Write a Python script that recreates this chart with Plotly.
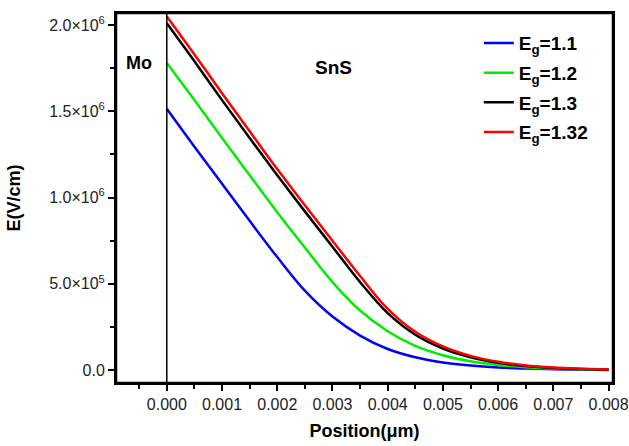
import plotly.graph_objects as go

position = [0.0, 0.0005, 0.001, 0.0015, 0.002, 0.0025, 0.003, 0.0035, 0.004,
            0.0045, 0.005, 0.0055, 0.006, 0.0065, 0.007, 0.0075, 0.008]
e_11 = [1.515, 1.295, 1.08, 0.865, 0.655, 0.46, 0.31, 0.20, 0.122, 0.074, 0.044,
        0.026, 0.015, 0.009, 0.005, 0.003, 0.001]
e_12 = [1.78, 1.565, 1.345, 1.13, 0.915, 0.71, 0.51, 0.345, 0.225, 0.14, 0.086,
        0.051, 0.03, 0.017, 0.009, 0.005, 0.002]
e_13 = [2.01, 1.79, 1.565, 1.345, 1.13, 0.92, 0.715, 0.51, 0.33, 0.205, 0.125,
        0.074, 0.042, 0.023, 0.012, 0.006, 0.002]
e_132 = [2.05, 1.83, 1.605, 1.385, 1.165, 0.955, 0.75, 0.545, 0.355, 0.222, 0.137,
         0.082, 0.048, 0.027, 0.015, 0.008, 0.003]

series = [("E<sub>g</sub>=1.1", e_11, "#0000ff"),
          ("E<sub>g</sub>=1.2", e_12, "#00ee00"),
          ("E<sub>g</sub>=1.3", e_13, "#000000"),
          ("E<sub>g</sub>=1.32", e_132, "#ff0000")]

x_ticks = [0.0, 0.001, 0.002, 0.003, 0.004, 0.005, 0.006, 0.007, 0.008]
x_ticktext = ["0.000", "0.001", "0.002", "0.003", "0.004", "0.005", "0.006", "0.007", "0.008"]
y_ticks = [0.0, 5e5, 1e6, 1.5e6, 2e6]
y_ticktext = ["0.0", "5.0×10<sup>5</sup>", "1.0×10<sup>6</sup>", "1.5×10<sup>6</sup>", "2.0×10<sup>6</sup>"]

FONT = "Liberation Sans, Arial, sans-serif"

fig = go.Figure()
for i, (name, vals, col) in enumerate(series):
    fig.add_trace(go.Scatter(
        x=position, y=[v * 1e6 for v in vals], mode="lines", name="<b>" + name + "</b>",
        legendgroup="g%d" % i,
        line=dict(color=col, width=2.5, shape="spline", smoothing=1.0)))

fig.add_shape(type="line", xref="x", yref="paper", x0=0, x1=0, y0=0, y1=1,
              line=dict(color="black", width=1.5))
fig.add_shape(type="rect", xref="paper", yref="paper", x0=0, x1=1, y0=0, y1=1,
              line=dict(color="black", width=2.5), fillcolor="rgba(0,0,0,0)", layer="above")

fig.add_annotation(x=0.046, y=0.865, xref="paper", yref="paper", text="<b>Mo</b>",
                   xanchor="center", yanchor="middle",
                   showarrow=False, font=dict(family=FONT, size=18, color="black"))
fig.add_annotation(x=0.437, y=0.853, xref="paper", yref="paper", text="<b>SnS</b>",
                   xanchor="center", yanchor="middle",
                   showarrow=False, font=dict(family=FONT, size=19, color="black"))

axis_common = dict(showline=True, linecolor="black", linewidth=2, mirror=True,
                   ticks="outside", ticklen=6, tickwidth=1.5, tickcolor="black",
                   showgrid=False, zeroline=False, automargin=False,
                   tickfont=dict(family=FONT, size=16, color="#222"))

fig.update_xaxes(range=[-0.00092, 0.00808], tickvals=x_ticks, ticktext=x_ticktext,
                 minor=dict(ticks="outside", ticklen=4, tickwidth=1.5, tickcolor="black", dtick=0.0005,
                            tick0=0),
                 title=dict(text="<b>Position(μm)</b>", font=dict(family=FONT, size=18, color="black"),
                            standoff=12),
                 **axis_common)
fig.update_yaxes(range=[-75000, 2.07e6], tickvals=y_ticks, ticktext=y_ticktext,
                 minor=dict(ticks="outside", ticklen=4, tickwidth=1.5, tickcolor="black", dtick=250000,
                            tick0=0),
                 title=dict(text="<b>E(V/cm)</b>", font=dict(family=FONT, size=18, color="black"),
                            standoff=24),
                 **axis_common)

fig.update_layout(
    width=629, height=446,
    margin=dict(l=116, r=16, t=13, b=63),
    paper_bgcolor="white", plot_bgcolor="white",
    showlegend=True,
    legend=dict(x=0.73, y=0.97, xanchor="left", yanchor="top", bgcolor="rgba(0,0,0,0)",
                font=dict(family=FONT, size=19, color="black"), tracegroupgap=2,
                itemwidth=30),
)

fig.write_html("out.html")
